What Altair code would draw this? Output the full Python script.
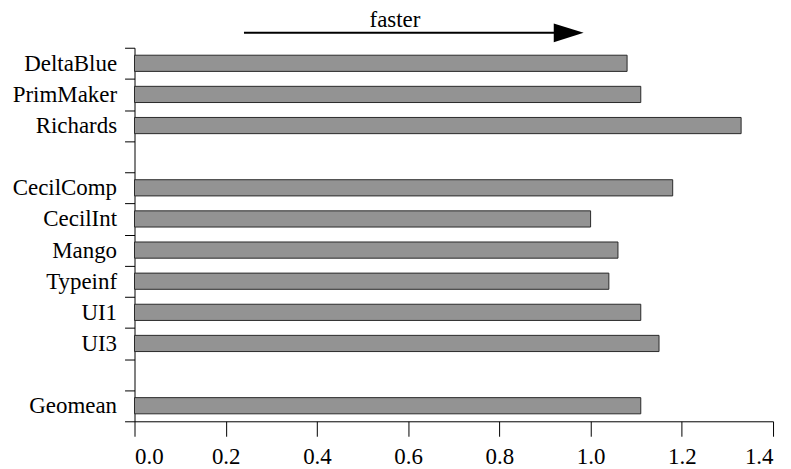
import altair as alt
import pandas as pd

benchmarks = ["DeltaBlue", "PrimMaker", "Richards", " ", "CecilComp", "CecilInt",
              "Mango", "Typeinf", "UI1", "UI3", "  ", "Geomean"]
speedups = [1.08, 1.11, 1.33, None, 1.18, 1.00, 1.06, 1.04, 1.11, 1.15, None, 1.11]
x_ticks = [0.0, 0.2, 0.4, 0.6, 0.8, 1.0, 1.2, 1.4]

arrow_start = [0.24]
arrow_end = [0.93]
arrow_head = [0.952]
arrow_label = ["faster"]
label_x = [0.571]

df = pd.DataFrame({"bench": benchmarks, "speedup": speedups})
bars_df = df.dropna()

FONT = "'Liberation Serif', 'Times New Roman', 'DejaVu Serif', serif"

xscale = alt.Scale(domain=[0, 1.4], nice=False, zero=True)
yscale = alt.Scale(domain=benchmarks, paddingInner=0, paddingOuter=0)

bars = alt.Chart(bars_df).mark_bar(
    height={"band": 0.52}, color="#939393", stroke="#2a2a2a", strokeWidth=1
).encode(
    x=alt.X("speedup:Q", scale=xscale,
            axis=alt.Axis(values=x_ticks, format=".1f", title=None, grid=False,
                          tickSize=15, labelPadding=9, domainColor="black",
                          tickColor="black", labelColor="black",
                          labelFont=FONT, labelFontSize=23)),
    y=alt.Y("bench:N", scale=yscale, sort=benchmarks,
            axis=alt.Axis(title=None, grid=False, tickBand="extent", tickSize=10,
                          labelPadding=8, domainColor="black", tickColor="black",
                          labelColor="black", labelFont=FONT, labelFontSize=23)),
)

arrow_df = pd.DataFrame({"start": arrow_start, "end": arrow_end, "head": arrow_head,
                         "label": arrow_label, "lx": label_x})

rule = alt.Chart(arrow_df).mark_rule(color="black", strokeWidth=2).encode(
    x=alt.X("start:Q", scale=xscale), x2="end:Q", y=alt.value(-15)
)
head = alt.Chart(arrow_df).mark_point(
    shape="M-1,-0.63 L1,0 L-1,0.63 Z", filled=True, color="black", opacity=1, size=900
).encode(x=alt.X("head:Q", scale=xscale), y=alt.value(-15))
label = alt.Chart(arrow_df).mark_text(
    font=FONT, fontSize=23, color="black", baseline="alphabetic", align="center"
).encode(x=alt.X("lx:Q", scale=xscale), y=alt.value(-21), text="label:N")

chart = alt.layer(bars, rule, head, label).properties(
    width=641, height=375,
    background="white",
    autosize=alt.AutoSizeParams(type="none"),
    padding={"left": 127, "top": 39, "right": 10, "bottom": 46},
).configure_view(stroke="white", strokeWidth=0, strokeOpacity=0)

chart.save("out.html", embed_options={"renderer": "svg", "actions": False})
